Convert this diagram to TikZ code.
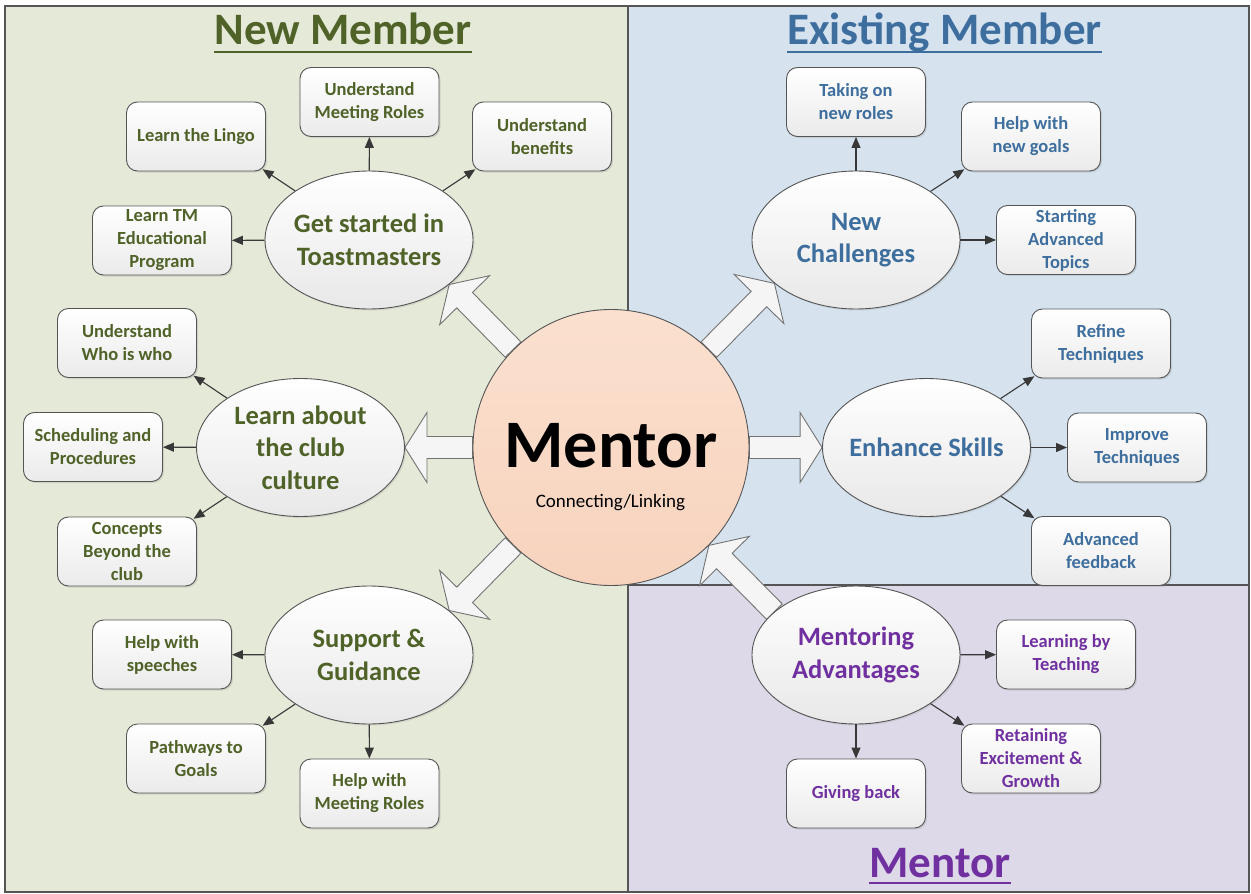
\documentclass[tikz,border=0pt]{standalone}
\usepackage{fontspec}
\setmainfont{Carlito}
\usetikzlibrary{calc,shapes.geometric,arrows.meta,shadows}

\definecolor{olivetxt}{HTML}{4F6228}
\definecolor{bluetxt}{HTML}{3D6E9E}
\definecolor{purpletxt}{HTML}{7030A0}
\definecolor{greenpanel}{HTML}{E5E9D8}
\definecolor{bluepanel}{HTML}{D6E3EF}
\definecolor{purplepanel}{HTML}{DDD9E8}
\definecolor{framegray}{HTML}{555555}
\definecolor{edgegray}{HTML}{555555}
\definecolor{peachtop}{HTML}{FBE0CF}
\definecolor{peachbot}{HTML}{F7D3BD}

\pgfdeclarelayer{panels}
\pgfdeclarelayer{blocks}
\pgfsetlayers{panels,blocks,main}

\tikzset{
  topic/.style={ellipse, draw=edgegray, line width=0.9pt,
    minimum width=208pt, minimum height=138pt, inner sep=-40pt,
    top color=white, bottom color=black!9, align=center,
    font=\fontsize{26.5}{32.5}\selectfont\bfseries,
    drop shadow={opacity=0.18, shadow xshift=1.5pt, shadow yshift=-1.5pt}},
  leaf/.style={rectangle, rounded corners=11pt, draw=edgegray, line width=0.9pt,
    minimum width=139pt, minimum height=69pt, inner sep=0pt,
    top color=white, bottom color=black!8, align=center,
    font=\fontsize{18.5}{23}\selectfont\bfseries,
    drop shadow={opacity=0.22, shadow xshift=1.5pt, shadow yshift=-1.5pt}},
  link/.style={draw=black!78, line width=1.1pt, -{Triangle[length=11pt,width=9pt]}},
  diag/.style={link, shorten >=-4pt},
  bigarrow/.style={draw=black!55, line width=0.9pt, fill=black!4},
  title/.style={inner sep=0pt, anchor=base, font=\fontsize{45}{50}\selectfont\bfseries},
}

% hollow block arrow between two points/nodes
\newcommand\blockarrow[2]{%
  \path (#1) -- (#2) coordinate[pos=0] (ba-s) coordinate[pos=1] (ba-e);
  \coordinate (ba-b) at ($(ba-e)!22pt!(ba-s)$);
  \draw[bigarrow] ($(ba-s)!11pt!90:(ba-e)$) -- ($(ba-b)!11pt!90:(ba-e)$)
    -- ($(ba-b)!35pt!90:(ba-e)$) -- (ba-e) -- ($(ba-b)!35pt!-90:(ba-e)$)
    -- ($(ba-b)!11pt!-90:(ba-e)$) -- ($(ba-s)!11pt!-90:(ba-e)$) -- cycle;
}

\begin{document}
\begin{tikzpicture}[x=1pt,y=-1pt]
\useasboundingbox (0,0) rectangle (1251,894);

% quadrants and frame
\begin{pgfonlayer}{panels}
  \fill[white] (0,0) rectangle (1251,894);
  \fill[greenpanel] (5,6) rectangle (628,892);
  \fill[bluepanel] (628,6) rectangle (1249,585);
  \fill[purplepanel] (628,585) rectangle (1249,892);
  \draw[framegray, line width=1.6pt] (5,6) rectangle (1249,892);
  \draw[framegray, line width=1.2pt] (628,6) -- (628,892);
  \draw[framegray, line width=1.2pt] (628,585) -- (1249,585);
\end{pgfonlayer}

% section titles
\node[title, olivetxt] (t-new) at (343,45) {New Member};
\draw[olivetxt, line width=2.6pt] ($(t-new.base west)+(0,7)$) -- ($(t-new.base east)+(0,7)$);
\node[title, bluetxt] (t-exist) at (944.5,45) {Existing Member};
\draw[bluetxt, line width=2.6pt] ($(t-exist.base west)+(0,7)$) -- ($(t-exist.base east)+(0,7)$);
\node[title, purpletxt] (t-mentor) at (940,877) {Mentor};
\draw[purpletxt, line width=2.6pt] ($(t-mentor.base west)+(0,6)$) -- ($(t-mentor.base east)+(0,6)$);

% central circle
\node[circle, minimum size=276pt, inner sep=0pt, draw=edgegray, line width=0.9pt,
      top color=peachtop, bottom color=peachbot] (m) at (611,447.5) {};
\node[anchor=base, inner sep=0pt, font=\fontsize{68}{70}\selectfont\bfseries] (m-title) at (611,467) {Mentor};
\node[anchor=base, inner sep=0pt, font=\fontsize{19}{22}\selectfont] (m-sub) at (610.5,507) {Connecting/Linking};

% topic ellipses
\node[topic, text=olivetxt] (gs) at (369,240) {Get started in\\Toastmasters};
\node[topic, text=olivetxt] (lac) at (300.5,447.5) {Learn about\\the club\\culture};
\node[topic, text=olivetxt] (sg) at (369,655) {Support \&\\Guidance};
\node[topic, text=bluetxt] (nc) at (856,240) {New\\Challenges};
\node[topic, text=bluetxt] (es) at (926.5,447.5) {Enhance Skills};
\node[topic, text=purpletxt] (ma) at (856,655) {Mentoring\\Advantages};

% leaf boxes: new member
\node[leaf, text=olivetxt] (umr) at (369.5,102) {Understand\\Meeting Roles};
\node[leaf, text=olivetxt] (lingo) at (196,136.5) {Learn the Lingo};
\node[leaf, text=olivetxt] (ben) at (542,136.5) {Understand\\benefits};
\node[leaf, text=olivetxt] (ltm) at (162,240.5) {Learn TM\\Educational\\Program};
\node[leaf, text=olivetxt] (who) at (127,343) {Understand\\Who is who};
\node[leaf, text=olivetxt] (sched) at (93,447) {Scheduling and\\Procedures};
\node[leaf, text=olivetxt] (conc) at (127,551.5) {Concepts\\Beyond the\\club};
\node[leaf, text=olivetxt] (speech) at (162,654.5) {Help with\\speeches};
\node[leaf, text=olivetxt] (pw) at (196,758.5) {Pathways to\\Goals};
\node[leaf, text=olivetxt] (hmr) at (369.5,793.5) {Help with\\Meeting Roles};

% leaf boxes: existing member
\node[leaf, text=bluetxt] (take) at (856,102) {Taking on\\new roles};
\node[leaf, text=bluetxt] (goals) at (1031,136.5) {Help with\\new goals};
\node[leaf, text=bluetxt] (sat) at (1066,240) {Starting\\Advanced\\Topics};
\node[leaf, text=bluetxt] (refine) at (1101,343.5) {Refine\\Techniques};
\node[leaf, text=bluetxt] (improve) at (1137,447.5) {Improve\\Techniques};
\node[leaf, text=bluetxt] (fb) at (1101,551) {Advanced\\feedback};

% leaf boxes: mentor
\node[leaf, text=purpletxt] (lbt) at (1066,654.5) {Learning by\\Teaching};
\node[leaf, text=purpletxt] (ret) at (1031,758.5) {Retaining\\Excitement \&\\Growth};
\node[leaf, text=purpletxt] (give) at (856,793.5) {Giving back};

% block arrows around the centre
\begin{pgfonlayer}{blocks}
  \blockarrow{m.135}{gs.331}
  \blockarrow{m.45}{nc.208}
  \blockarrow{m}{lac}
  \blockarrow{m}{es}
  \blockarrow{m.225}{sg.29}
  \blockarrow{ma.152}{m.315}
\end{pgfonlayer}

% thin links
\draw[link] (gs) -- (umr);
\draw[diag] (gs) -- (lingo.south east);
\draw[diag] (gs) -- (ben.south west);
\draw[link] (gs) -- (ltm);
\draw[diag] (lac) -- (who.south east);
\draw[link] (lac) -- (sched);
\draw[diag] (lac) -- (conc.north east);
\draw[link] (sg) -- (speech);
\draw[diag] (sg) -- (pw.north east);
\draw[link] (sg) -- (hmr);
\draw[link] (nc) -- (take);
\draw[diag] (nc) -- (goals.south west);
\draw[link] (nc) -- (sat);
\draw[diag] (es) -- (refine.south west);
\draw[link] (es) -- (improve);
\draw[diag] (es) -- (fb.north west);
\draw[link] (ma) -- (lbt);
\draw[diag] (ma) -- (ret.north west);
\draw[link] (ma) -- (give);
\end{tikzpicture}
\end{document}
